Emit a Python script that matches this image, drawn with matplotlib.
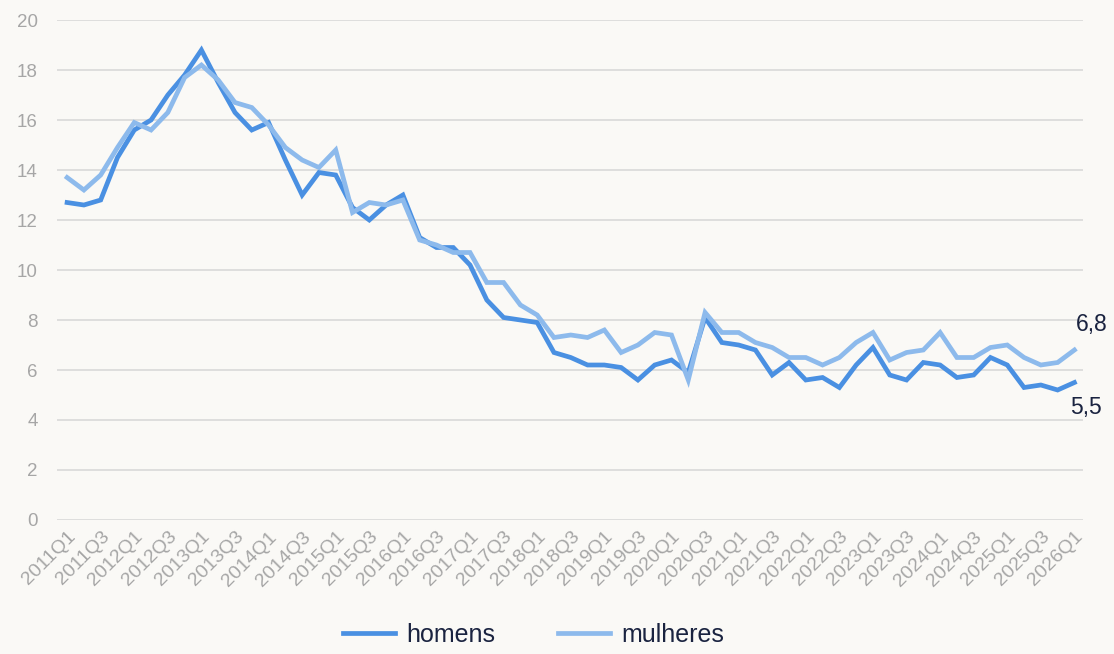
import matplotlib.pyplot as plt
import numpy as np

plt.rcParams["font.family"] = ["Liberation Sans", "DejaVu Sans"]

# Trimestres 2011Q1 .. 2026Q1
quarters = [f"{y}Q{q}" for y in range(2011, 2027) for q in range(1, 5)][:61]

homens = [12.7, 12.6, 12.8, 14.5, 15.6, 16.0, 17.0, 17.8, 18.8, 17.5,
          16.3, 15.6, 15.9, 14.4, 13.0, 13.9, 13.8, 12.5, 12.0, 12.6,
          13.0, 11.3, 10.9, 10.9, 10.2, 8.8, 8.1, 8.0, 7.9, 6.7,
          6.5, 6.2, 6.2, 6.1, 5.6, 6.2, 6.4, 5.9, 8.1, 7.1,
          7.0, 6.8, 5.8, 6.3, 5.6, 5.7, 5.3, 6.2, 6.9, 5.8,
          5.6, 6.3, 6.2, 5.7, 5.8, 6.5, 6.2, 5.3, 5.4, 5.2,
          5.5]

mulheres = [13.7, 13.2, 13.8, 14.9, 15.9, 15.6, 16.3, 17.7, 18.2, 17.6,
            16.7, 16.5, 15.8, 14.9, 14.4, 14.1, 14.8, 12.3, 12.7, 12.6,
            12.8, 11.2, 11.0, 10.7, 10.7, 9.5, 9.5, 8.6, 8.2, 7.3,
            7.4, 7.3, 7.6, 6.7, 7.0, 7.5, 7.4, 5.6, 8.3, 7.5,
            7.5, 7.1, 6.9, 6.5, 6.5, 6.2, 6.5, 7.1, 7.5, 6.4,
            6.7, 6.8, 7.5, 6.5, 6.5, 6.9, 7.0, 6.5, 6.2, 6.3,
            6.8]

bg = "#faf9f6"
c_h = "#4a90e2"
c_m = "#8dbaec"
navy = "#1a2340"
gray = "#a6a6a6"

fig = plt.figure(figsize=(11.14, 6.54), dpi=100, facecolor=bg)
ax = fig.add_axes([0.0512, 0.2049, 0.9208, 0.7645], facecolor=bg)

x = np.arange(len(quarters))
ax.plot(x, homens, color=c_h, linewidth=3.4, label="homens", solid_joinstyle="miter")
ax.plot(x, mulheres, color=c_m, linewidth=3.4, label="mulheres", solid_joinstyle="miter")

# Rótulos dos últimos valores
ax.annotate(f"{mulheres[-1]:.1f}".replace(".", ","), (x[-1], mulheres[-1]),
            xytext=(1, 10), textcoords="offset points", ha="left", va="bottom",
            fontsize=16.5, color=navy)
ax.annotate(f"{homens[-1]:.1f}".replace(".", ","), (x[-1], homens[-1]),
            xytext=(-3, -10), textcoords="offset points", ha="left", va="top",
            fontsize=16.5, color=navy)

ax.set_ylim(0, 20)
ax.set_yticks(range(0, 21, 2))
ax.set_xlim(-0.6, len(quarters) - 0.5)
ax.set_xticks(x[::2])
ax.set_xticklabels(quarters[::2], rotation=45, ha="right", rotation_mode="anchor")
ax.tick_params(axis="both", length=0, labelcolor=gray)
ax.tick_params(axis="x", pad=6, labelsize=14)
ax.tick_params(axis="y", pad=14, labelsize=13.5)
ax.grid(axis="y", color="#d9d9d9", linewidth=1.2)
ax.set_axisbelow(True)
for s in ax.spines.values():
    s.set_visible(False)

leg = fig.legend(loc="lower center", ncol=2, frameon=False, fontsize=18,
                 bbox_to_anchor=(0.479, -0.024), handlelength=2.08, handletextpad=0.44,
                 columnspacing=2.5)
for t in leg.get_texts():
    t.set_color(navy)

fig.savefig("out.png", dpi=100, facecolor=bg)
